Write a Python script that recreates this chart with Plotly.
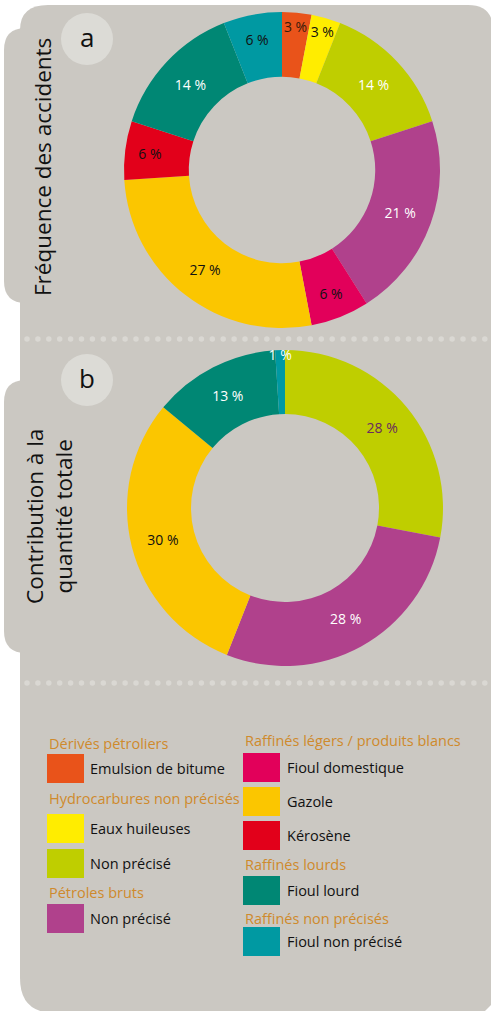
import numpy as np
import plotly.graph_objects as go

# ---------------- DATA ----------------
categories = ["Emulsion de bitume", "Eaux huileuses", "Non précisé (HC)", "Pétroles bruts",
              "Fioul domestique", "Gazole", "Kérosène", "Fioul lourd", "Fioul non précisé"]
colors = ["#E9531A", "#FFED00", "#BFCE00", "#B0418C", "#E2005A", "#FBC600", "#E2001A", "#008774", "#0099A2"]
freq_values = [3, 3, 14, 21, 6, 27, 6, 14, 6]
freq_text_colors = ["#3a1a0a", "#111111", "#FFFFFF", "#FFFFFF", "#111111", "#111111", "#111111", "#FFFFFF", "#111111"]
qty_values = [0, 0, 28, 28, 0, 30, 0, 13, 1]
qty_text_colors = ["#111111", "#111111", "#6A2C5E", "#FFFFFF", "#111111", "#111111", "#111111", "#FFFFFF", "#FFFFFF"]

legend_left = [("h", "Dérivés pétroliers", None), ("i", "Emulsion de bitume", 0),
               ("h", "Hydrocarbures non précisés", None), ("i", "Eaux huileuses", 1),
               ("i", "Non précisé", 2), ("h", "Pétroles bruts", None), ("i", "Non précisé", 3)]
legend_right = [("h", "Raffinés légers / produits blancs", None), ("i", "Fioul domestique", 4),
                ("i", "Gazole", 5), ("i", "Kérosène", 6), ("h", "Raffinés lourds", None),
                ("i", "Fioul lourd", 7), ("h", "Raffinés non précisés", None), ("i", "Fioul non précisé", 8)]

# ---------------- LAYOUT CONSTANTS ----------------
W, H = 491, 1011
FONT = "Open Sans"
GREY = "#CBC8C2"
CIRCLE = "#DCDBD6"
HEADER = "#CF8A2C"
left_rows_y = [743, 768.5, 798, 828.5, 863.5, 892, 918.5]
right_rows_y = [740, 767.5, 801.5, 835.5, 864, 890.5, 918, 941.5]


def dom_x(cx, r):
    return [(cx - r) / W, (cx + r) / W]


def dom_y(cy, r):
    return [1 - (cy + r) / H, 1 - (cy - r) / H]


fig = go.Figure()

# dotted separators (decoration)
for yy in (339, 683):
    xs = np.arange(27, 491, 10.9)
    fig.add_trace(go.Scatter(x=xs, y=[yy] * len(xs), mode="markers",
                             marker=dict(color="#DAD8D3", size=5.5), hoverinfo="skip", showlegend=False))

# donut a
fig.add_trace(go.Pie(
    values=freq_values, labels=categories, sort=False, direction="clockwise", rotation=0,
    hole=0.59, marker=dict(colors=colors, line=dict(width=0)),
    texttemplate="%{value} %", textposition="inside", insidetextorientation="horizontal",
    textfont=dict(color=freq_text_colors, size=14, family=FONT),
    domain=dict(x=dom_x(282, 158), y=dom_y(170, 158)), showlegend=False, hoverinfo="label+value"))

# donut b
idx_b = [i for i, v in enumerate(qty_values) if v > 0]
fig.add_trace(go.Pie(
    values=[qty_values[i] for i in idx_b], labels=[categories[i] for i in idx_b], sort=False,
    direction="clockwise", rotation=0, hole=0.595,
    marker=dict(colors=[colors[i] for i in idx_b], line=dict(width=0)),
    texttemplate="%{value} %", textposition="inside", insidetextorientation="horizontal",
    textfont=dict(color=[qty_text_colors[i] for i in idx_b], size=14, family=FONT),
    domain=dict(x=dom_x(285, 158), y=dom_y(508, 158)), showlegend=False, hoverinfo="label+value"))

shapes = []
# main panel
shapes.append(dict(type="path", xref="x", yref="y", layer="below", line=dict(width=0), fillcolor=GREY,
                   path="M 48,5 L 468,5 Q 493,5 493,30 L 493,1003 L 483,1013 L 55,1013 Q 20,1013 20,978 L 20,30 Q 20,5 48,5 Z"))
# side tabs
for (y0, y1) in ((28, 303), (380, 653)):
    r = 22
    shapes.append(dict(type="path", xref="x", yref="y", layer="below", line=dict(width=0), fillcolor=GREY,
                       path=f"M {4 + r},{y0} L 60,{y0} L 60,{y1} L {4 + r},{y1} Q 4,{y1} 4,{y1 - r} "
                            f"L 4,{y0 + r} Q 4,{y0} {4 + r},{y0} Z"))
# letter circles
for cy in (39, 380):
    shapes.append(dict(type="circle", xref="x", yref="y", layer="below", line=dict(width=0), fillcolor=CIRCLE,
                       x0=61, x1=113, y0=cy - 26, y1=cy + 26))

annotations = []
annotations.append(dict(x=87, y=37, text="a", showarrow=False, xref="x", yref="y",
                        font=dict(family=FONT, size=26, color="#111")))
annotations.append(dict(x=87, y=378, text="b", showarrow=False, xref="x", yref="y",
                        font=dict(family=FONT, size=26, color="#111")))
annotations.append(dict(x=42, y=167, text="Fréquence des accidents", textangle=-90, showarrow=False,
                        xref="x", yref="y", font=dict(family=FONT, size=22.5, color="#111")))
annotations.append(dict(x=49, y=517, text="Contribution à la<br>quantité totale", textangle=-90, showarrow=False,
                        xref="x", yref="y", font=dict(family=FONT, size=22.5, color="#111")))


def build_legend(items, rows_y, x_sw, x_txt):
    for (kind, text, ci), yy in zip(items, rows_y):
        if kind == "h":
            annotations.append(dict(x=x_sw, y=yy, text=text, showarrow=False, xref="x", yref="y",
                                    xanchor="left", yanchor="middle",
                                    font=dict(family=FONT, size=14.5, color=HEADER)))
        else:
            shapes.append(dict(type="rect", xref="x", yref="y", layer="below", line=dict(width=0),
                               fillcolor=colors[ci], x0=x_sw, x1=x_sw + 37, y0=yy - 14.5, y1=yy + 14.5))
            annotations.append(dict(x=x_txt, y=yy, text=text, showarrow=False, xref="x", yref="y",
                                    xanchor="left", yanchor="middle",
                                    font=dict(family=FONT, size=14.5, color="#111")))


build_legend(legend_left, left_rows_y, 47, 88)
build_legend(legend_right, right_rows_y, 243, 285)

fig.update_layout(
    width=W, height=H, margin=dict(l=0, r=0, t=0, b=0),
    paper_bgcolor="white", plot_bgcolor="white",
    xaxis=dict(range=[0, W], visible=False, fixedrange=True),
    yaxis=dict(range=[H, 0], visible=False, fixedrange=True),
    shapes=shapes, annotations=annotations,
    uniformtext=dict(minsize=14, mode="show"),
    showlegend=False,
)

fig.write_html("out.html")
